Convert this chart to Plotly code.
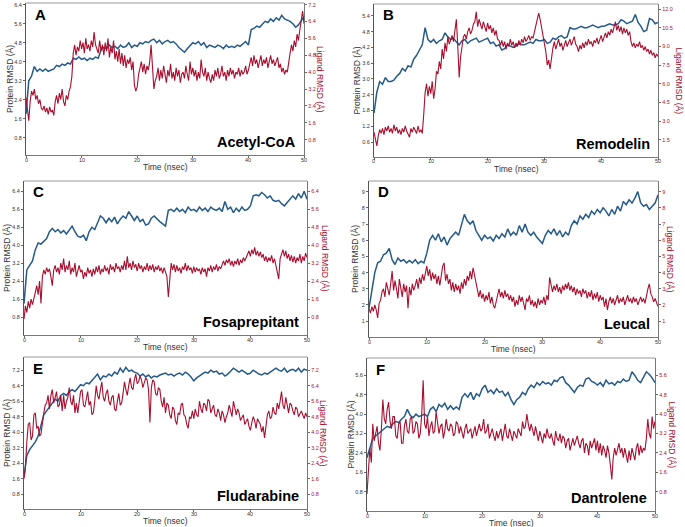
import numpy as np
import plotly.graph_objects as go

# ---- data ----
# protein RMSD, sampled every 0.5 ns
a_protein = [1.8, 3.2, 3.4, 3.8, 3.6, 3.7, 3.6, 3.7, 3.6, 3.65, 3.7, 3.85, 3.8, 3.9, 3.85, 3.95, 3.9,
             4.15, 4.1, 4.2, 4.1, 4.15, 4.05, 4.15, 4.1, 4.2, 4.15, 4.5, 4.6, 4.55, 4.7, 4.6, 4.65, 4.55,
             4.7, 4.6, 4.65, 4.8, 4.6, 4.7, 4.65, 4.8, 4.75, 4.85, 4.8, 4.9, 4.95, 4.8, 4.9, 4.75, 4.85,
             4.9, 4.8, 4.85, 4.75, 4.6, 4.5, 4.4, 4.55, 4.7, 4.8, 4.75, 4.85, 4.7, 4.8, 4.6, 4.7, 4.65,
             4.6, 4.7, 4.65, 4.55, 4.7, 4.6, 4.65, 4.6, 4.7, 4.65, 4.75, 4.85, 4.7, 5.35, 5.4, 5.5, 5.45,
             5.6, 5.7, 5.65, 5.8, 5.7, 5.85, 5.75, 5.95, 5.8, 5.75, 5.7, 5.6, 5.45, 5.55, 5.7, 5.9]
b_protein = [1.7, 2.5, 2.9, 2.8, 3.05, 2.9, 2.9, 2.95, 3.1, 3.2, 3.4, 3.3, 3.5, 3.45, 3.75, 3.9, 4.1,
             4.3, 4.95, 4.5, 4.4, 4.5, 4.35, 4.45, 4.5, 4.75, 4.6, 4.5, 4.55, 4.4, 4.3, 4.45, 4.5,
             4.35, 4.45, 4.5, 4.55, 4.4, 4.45, 4.5, 4.55, 4.35, 4.4, 4.25, 4.3, 4.1, 4.15, 4.3, 4.25,
             4.2, 4.25, 4.35, 4.3, 4.3, 4.35, 4.4, 4.35, 4.5, 4.45, 4.45, 4.5, 4.35, 4.4, 4.55, 4.5,
             4.6, 4.65, 4.55, 4.6, 4.95, 4.9, 4.9, 4.95, 5.0, 4.95, 4.95, 5.0, 5.05, 5.0, 4.95, 5.0,
             5.0, 5.05, 5.1, 5.05, 5.05, 5.1, 5.25, 5.2, 5.1, 5.15, 5.2, 5.45, 5.15, 5.0, 4.8, 4.85, 5.3,
             5.25, 5.1, 5.15]
c_protein = [1.4, 2.9, 3.1, 3.3, 3.8, 4.1, 4.05, 4.2, 4.3, 4.6, 4.75, 4.6, 4.7, 4.55, 4.65, 4.5, 4.7,
             4.85, 4.6, 4.4, 4.35, 4.45, 4.2, 4.6, 4.8, 4.7, 5.0, 5.3, 5.2, 5.0, 5.2, 5.05, 5.25, 4.95,
             5.15, 5.3, 5.2, 5.5, 5.3, 5.1, 5.3, 5.05, 5.15, 4.9, 4.95, 5.2, 5.3, 5.15, 5.05, 4.95,
             4.85, 5.55, 5.6, 5.5, 5.65, 5.5, 5.6, 5.45, 5.7, 5.55, 5.6, 5.5, 5.7, 5.55, 5.65, 5.5,
             5.7, 5.6, 5.55, 5.65, 5.5, 5.95, 5.6, 5.7, 5.45, 5.65, 5.5, 5.7, 5.55, 5.6, 5.75, 6.2,
             6.25, 6.2, 6.35, 6.25, 6.1, 6.2, 6.0, 5.95, 6.0, 5.85, 5.75, 5.9, 6.05, 6.2, 6.05, 6.3,
             6.1, 6.4, 6.05]
d_protein = [1.8, 2.8, 4.0, 4.6, 4.7, 5.1, 5.2, 5.5, 4.8, 4.5, 4.9, 4.7, 4.8, 4.6, 4.75, 4.6, 4.8,
             4.55, 4.7, 4.6, 5.2, 6.0, 6.3, 6.0, 6.4, 5.9, 6.2, 5.7, 6.1, 6.3, 6.5, 6.3, 7.0, 7.6, 7.2,
             7.0, 7.2, 6.6, 6.3, 6.0, 6.3, 6.1, 6.2, 5.95, 6.3, 6.1, 6.4, 6.2, 6.7, 6.3, 6.5, 6.3, 6.9,
             6.5, 7.0, 6.5, 6.3, 6.5, 6.2, 6.0, 5.8, 6.3, 6.6, 6.4, 6.7, 6.3, 6.6, 6.2, 6.5, 6.3, 6.9,
             7.2, 7.0, 7.5, 7.3, 7.6, 7.4, 7.8, 7.6, 7.9, 7.7, 8.0, 7.8, 7.5, 7.9, 7.6, 8.1, 7.8, 8.4,
             8.2, 8.5, 8.3, 8.6, 9.0, 8.3, 8.1, 8.2, 7.9, 8.1, 8.3, 8.8]
e_protein = [1.7, 2.8, 3.1, 3.3, 3.5, 3.8, 4.3, 4.9, 5.1, 5.3, 5.5, 5.7, 5.6, 5.9, 6.0, 5.9, 6.1, 6.2,
             6.1, 6.3, 6.45, 6.4, 6.55, 6.5, 6.65, 6.8, 7.0, 6.7, 6.9, 6.85, 7.0, 6.9, 7.1, 7.0, 7.3,
             7.1, 7.35, 7.15, 7.2, 7.1, 7.05, 6.9, 7.0, 6.85, 6.95, 6.8, 6.9, 6.85, 6.95, 7.0, 7.05,
             6.95, 7.0, 6.9, 7.0, 7.05, 6.95, 7.1, 7.0, 6.85, 6.65, 6.8, 6.9, 7.0, 7.1, 7.05, 7.2, 7.1,
             7.15, 7.0, 7.05, 6.9, 7.0, 7.15, 7.3, 7.2, 7.1, 7.2, 7.1, 7.0, 7.05, 7.2, 7.1, 7.0, 6.95,
             7.05, 7.0, 7.1, 7.2, 7.3, 7.2, 7.15, 7.3, 7.1, 7.2, 7.25, 7.15, 7.3, 7.1, 7.25, 7.2]
f_protein = [2.2, 2.6, 3.0, 3.1, 3.2, 3.3, 3.4, 3.5, 3.45, 3.6, 3.7, 3.65, 3.8, 3.9, 4.2, 3.95, 3.85,
             4.0, 3.9, 3.95, 4.0, 3.9, 4.2, 4.3, 4.1, 4.4, 4.3, 4.45, 4.2, 4.35, 4.2, 4.3, 4.2, 4.7,
             4.85, 4.7, 4.9, 4.6, 4.85, 4.75, 5.05, 5.2, 4.9, 5.0, 4.85, 5.05, 4.9, 4.95, 4.75, 4.9,
             4.6, 4.4, 4.6, 4.7, 4.9, 4.8, 5.05, 5.2, 5.1, 5.3, 5.2, 5.35, 5.25, 5.3, 5.2, 5.4, 5.35,
             5.5, 5.55, 5.3, 5.2, 5.05, 4.9, 5.1, 5.2, 5.15, 5.45, 5.5, 5.35, 5.3, 5.2, 5.3, 5.15, 5.4,
             5.25, 5.3, 5.2, 5.35, 5.3, 5.45, 5.35, 5.4, 5.75, 5.6, 5.4, 5.3, 5.5, 5.75, 5.65, 5.5, 5.3]

# ligand RMSD, sampled every 0.25 ns
a_ligand = [2.8, 2.2, 1.7, 2.6, 3.1, 2.9, 3.2, 2.7, 2.9,
            2.5, 2.7, 2.3, 2.2, 2.4, 2.1, 2.3, 2.0, 2.35, 2.1, 2.2, 1.95,
            2.6, 2.9, 2.5, 3.0, 2.7, 3.2, 2.6, 2.4, 2.9, 2.7, 3.1, 3.3, 3.8,
            4.9, 5.3, 4.8, 5.2, 5.0, 5.5, 5.1, 5.4, 4.9, 5.6, 5.1, 5.3, 5.0, 5.5, 5.2, 5.9, 5.3, 5.1, 4.9,
            5.5, 5.0, 5.3, 4.8, 5.4, 5.0, 5.6, 4.7, 5.2, 4.9, 5.5, 4.6, 5.0, 4.5, 5.1, 4.4, 4.9, 4.3,
            4.8, 4.2, 4.6, 4.4, 4.7, 4.1, 4.5,
            3.4, 3.1, 3.3, 3.9,
            4.2, 4.5, 4.0, 4.4, 3.9, 4.3, 4.1, 4.5,
            5.3, 4.0, 3.2, 3.6,
            3.8, 4.2, 3.6, 4.1, 3.7, 4.3, 3.9, 3.5, 4.1, 3.8, 4.4, 3.7, 4.0, 3.6, 4.2, 3.8, 4.1, 3.5,
            3.9, 4.0, 3.7, 4.3, 3.9, 3.6, 4.5, 3.9, 4.2,
            3.8, 4.1, 3.6, 4.0, 3.7, 4.6, 4.0, 3.8, 4.2, 3.6, 4.0, 3.7, 3.5, 3.9, 3.6, 4.1, 3.8, 4.2,
            3.7, 3.9, 4.3, 3.8, 4.0, 3.6, 4.1, 3.8, 4.2, 3.9, 4.1, 3.7, 4.0, 3.9, 4.2, 3.8, 4.1, 3.9,
            4.0, 4.3, 3.9, 4.1,
            4.5, 4.7, 4.3, 4.8, 4.4, 4.6, 4.2, 4.5, 4.8, 4.3, 4.6, 4.4, 4.7, 4.2, 4.5, 4.8, 4.4, 4.6,
            4.3, 4.5, 4.7, 4.2, 4.4, 4.0, 4.2, 3.9, 4.1, 4.0,
            4.6, 4.9, 5.3, 5.0, 5.5, 5.2, 5.8, 5.5, 6.0, 6.5, 6.9, 6.3]
b_ligand = [2.1, 1.5, 1.0, 1.8, 2.3, 2.0, 2.4, 1.9, 2.5, 2.2, 2.6, 2.1, 2.4, 2.0, 2.7, 2.2, 2.5, 2.0,
            2.3, 1.9, 2.4, 2.1, 2.6, 2.2, 2.0, 1.7, 2.4, 2.1, 2.5, 2.2, 2.0, 2.6, 2.1, 2.3, 2.0,
            3.5, 5.3, 6.0, 5.0, 5.8, 5.2, 6.2, 4.8, 5.6, 7.0,
            6.8, 7.8, 7.2, 8.8, 8.0, 9.3, 8.6, 9.8, 9.2, 9.6, 9.9, 9.4, 10.3, 11.2, 9.0, 6.5,
            8.2, 9.0, 9.8, 10.0, 9.6, 10.2, 10.5, 10.0, 10.3, 10.8, 11.0, 11.8,
            10.6, 11.2, 10.8, 10.4, 11.0, 10.6, 10.2, 10.9, 10.4, 10.7, 10.1, 10.5, 9.9, 10.3, 9.6, 9.5,
            9.1, 9.5, 9.0, 9.4, 8.8, 9.3, 9.0, 9.6, 9.1, 9.4, 8.9, 9.3, 9.0, 9.5, 9.1, 9.6, 9.3, 9.8,
            9.4, 9.6, 9.9, 9.5, 9.8, 9.7,
            10.2, 10.6, 11.0, 11.7, 11.2, 10.6, 10.0, 9.5, 8.6, 7.5, 7.9, 7.2,
            8.3, 8.9, 9.4, 8.8, 9.2, 9.6, 9.0, 9.3, 8.7, 9.1, 9.5, 9.0, 9.3, 9.6, 9.1, 9.4, 9.8, 9.2,
            9.0, 8.6, 9.1, 8.8, 9.3, 8.9, 9.4, 9.1, 9.6, 9.2, 9.4, 9.0, 9.5, 9.3, 9.7, 9.2, 9.6, 9.9,
            9.4, 9.8, 10.1, 9.7, 10.2, 9.9, 10.4, 10.1,
            10.6, 11.0, 10.3, 10.7, 10.2, 10.6, 10.0, 10.5, 10.1, 10.4, 9.9, 10.2,
            9.4, 9.0, 9.3, 8.9, 9.2, 9.0, 9.4, 8.9, 9.1, 8.7, 9.0, 8.6, 8.8, 8.4, 8.7, 8.3, 8.5, 8.1,
            8.4, 8.2]
c_ligand = [0.7, 1.3, 1.0, 1.5, 1.2, 1.6, 1.35, 1.7, 1.9, 2.2, 1.8, 2.4, 1.4,
            2.6, 2.9, 2.7, 3.0, 2.8, 2.95, 2.6, 2.2, 2.9, 3.1, 2.8, 3.0, 2.7, 3.2, 2.9, 3.4, 2.8, 3.1,
            2.9, 3.3, 2.7, 3.0, 2.8, 3.2, 2.6, 2.9, 3.1, 2.8,
            2.9, 2.5, 2.8, 2.6, 3.0, 2.75, 2.9, 2.6, 2.95, 2.7, 3.05, 2.8, 3.1, 2.7, 2.95, 2.8, 3.1,
            2.85, 3.0, 2.7, 3.15, 2.9, 3.05, 2.8, 3.2, 2.95, 3.05, 2.8, 3.1, 2.9, 3.3, 2.9,
            3.5, 3.0, 3.2, 2.9, 3.3, 3.0, 3.15, 2.85, 3.2, 2.95, 3.1, 2.8, 3.05, 2.9, 3.2, 2.85, 3.1,
            2.9, 3.15, 2.8, 3.05, 2.9, 3.1, 2.85, 3.0, 2.75, 3.0, 2.8, 2.6,
            1.7, 2.5, 3.2,
            2.9, 3.15, 2.8, 3.1, 2.85, 3.0, 2.75, 3.05, 2.9, 3.2, 2.85, 3.1, 2.9, 3.0, 2.75, 3.05, 2.8,
            3.0, 2.85, 2.95, 2.7, 3.0, 2.8, 2.95, 2.6, 3.0, 2.85, 3.1, 2.8, 3.05, 2.9, 3.15, 2.85,
            3.05, 2.95, 3.1,
            3.3, 3.1, 3.35, 3.2, 3.4, 3.1, 3.3, 3.05, 3.3, 3.15, 3.4, 3.1, 3.35, 3.2, 3.45, 3.3, 3.5,
            3.6, 3.75, 3.5, 3.8, 3.6, 3.9, 3.55, 3.75, 3.5, 3.7, 3.45, 3.6, 3.3, 3.5, 3.25, 3.45, 3.3,
            3.55, 3.2, 3.4, 3.1, 2.8, 2.5,
            3.4, 3.6, 3.8, 3.5, 3.75, 3.4, 3.6, 3.3, 3.55, 3.25, 3.5, 3.2, 3.45, 3.3, 3.6, 3.2, 3.5,
            3.3, 3.65, 3.45]
d_ligand = [1.8, 1.5, 1.9, 1.6, 2.0, 1.7, 1.2, 2.1, 2.3,
            2.8, 3.0, 2.5, 3.4, 2.9, 2.6, 3.3, 4.1, 2.9, 3.5, 3.0, 2.4, 3.6, 3.0, 2.5, 3.3, 2.8, 3.2,
            1.8, 3.1, 2.6, 3.3, 2.9, 3.2, 3.6, 3.0, 3.7, 3.3, 3.9, 3.5, 4.1, 4.4,
            3.8, 4.2, 3.5, 4.0, 3.6, 3.9, 3.3, 3.8, 3.2, 3.7, 4.4, 4.6, 3.5, 3.9, 3.3, 3.6, 2.9, 3.4,
            2.8, 3.3, 2.9, 3.2, 2.7, 3.4, 3.0, 3.6, 3.2, 3.8, 3.5, 4.1, 3.6, 4.3, 3.8, 3.3,
            2.8, 2.5, 2.9, 2.4, 2.7, 2.2, 2.6, 2.3, 2.8, 2.1, 2.5, 2.0, 1.8, 2.3, 2.6, 3.0, 2.5, 2.8,
            2.4, 2.9, 2.5, 2.7, 2.3, 2.6, 2.2, 2.5, 1.9, 2.3, 2.0, 2.6, 2.2, 2.5, 2.1, 1.7, 2.4, 2.2,
            2.6, 2.0, 2.3, 1.9, 2.2, 1.8, 2.4, 2.0, 2.3, 2.1, 2.5, 2.0, 2.6, 2.3,
            3.7, 3.1, 2.8, 3.2, 2.9, 3.3, 2.8, 3.1, 2.7, 3.2, 2.9, 3.3, 3.0, 3.4, 2.9, 3.2, 2.8, 3.1,
            2.6, 3.0, 2.7, 2.9, 2.5, 3.0, 2.7, 2.9, 2.4, 2.8, 2.5, 2.9, 2.3, 2.7, 2.4, 2.8, 2.2, 2.6,
            2.3, 2.5, 1.9, 2.4, 1.7, 2.2, 2.5, 2.1, 2.4, 2.0, 2.3, 2.6, 2.1, 2.4, 2.2, 2.5, 2.0, 2.3,
            2.6, 2.2, 2.4, 2.1, 2.5, 2.2, 2.4, 2.0, 2.3, 2.5, 2.2, 2.4, 2.1, 2.6, 3.0, 3.3, 2.7, 2.5,
            2.2, 2.4, 2.1, 1.9]
e_ligand = [1.6, 2.2, 3.5, 4.4, 4.5, 3.6, 3.8, 4.9, 5.0, 4.2, 4.3, 3.8, 3.9,
            4.6, 5.0, 5.4, 5.5, 5.9, 5.2, 5.9, 6.2, 5.5, 5.8, 6.1, 5.3, 5.4, 5.9, 5.1, 5.9, 5.2, 5.6,
            5.8, 6.3, 5.6, 5.4, 5.9, 5.0, 5.5, 5.0, 5.7, 6.1, 6.2, 5.4, 5.3, 5.8, 6.1, 5.4, 5.6, 4.9,
            5.0, 5.6, 6.4, 5.9, 5.7, 6.2, 6.6, 5.8, 5.6, 6.0, 6.2, 5.6, 5.4, 5.8, 5.9, 5.2, 5.1, 5.6,
            6.0, 5.4, 5.5, 6.0, 6.6, 6.2, 5.9, 6.4, 6.8, 6.3, 6.2, 6.7, 7.0, 6.5, 6.6, 6.9, 6.7, 6.3,
            6.5, 6.8, 6.7, 6.2, 4.5,
            6.3, 6.7, 6.6, 6.0, 5.9, 6.3, 6.2, 5.6, 5.3, 5.8, 5.0, 5.5, 5.4, 4.9, 4.7, 5.3, 5.2, 4.6,
            4.4, 5.0, 4.9, 5.4, 5.5, 4.9, 4.8, 4.4, 4.2, 4.8, 4.7, 5.1, 4.7,
            5.2, 4.9, 4.8, 5.6, 5.2, 5.0, 5.5, 5.4, 5.1, 5.7, 5.6, 5.0, 5.2, 5.4, 4.9, 4.8, 5.2, 5.0,
            4.6, 5.1, 4.9, 4.5, 4.8, 5.0, 5.4, 5.0, 4.8, 5.6, 5.3, 4.9, 5.2, 5.0, 4.6, 4.8, 4.9, 4.4,
            4.6, 4.7, 4.3, 4.1, 4.5, 4.8, 4.6, 4.2, 4.7, 4.5, 4.4, 4.0, 4.3, 3.7,
            4.5, 4.9, 5.1, 4.7, 4.8, 5.3, 5.0, 4.9, 5.5, 5.2, 5.6, 6.1, 5.4, 5.2, 5.8, 5.4, 5.0, 5.5,
            5.4, 5.1, 4.9, 5.3, 5.2, 4.8, 5.0, 5.1, 4.9, 4.7, 5.0, 4.8]
f_ligand = [0.7, 1.5, 2.6, 2.0, 3.6,
            2.9, 3.3, 3.5, 2.8, 2.5, 3.4, 4.6, 3.8, 3.6, 4.2, 4.5, 3.7, 3.4, 3.9, 3.9, 3.1, 3.0, 3.6,
            3.7, 2.8, 2.8, 3.5, 3.8, 3.3, 3.2, 3.8, 3.9, 3.2, 3.3, 3.7, 3.6, 3.0, 3.2, 4.0, 5.4, 3.6,
            3.4, 3.9,
            3.1, 3.5, 3.7, 3.2, 3.3, 4.1, 3.6, 3.2, 3.5, 3.6, 3.0, 3.3, 3.8, 3.4, 3.3, 3.6, 3.5, 3.1,
            3.2, 3.7, 3.6, 3.2, 3.5, 3.3, 3.0, 3.4, 3.6, 3.2, 3.3, 3.4, 3.0, 3.2, 3.5, 3.1, 3.3, 3.6,
            3.3, 3.4, 3.8, 3.2, 3.3, 3.6, 3.0, 3.2, 3.4, 3.1, 2.9, 3.3, 3.0, 3.2, 3.4, 2.9, 3.3, 3.6,
            3.1, 3.0, 3.4, 3.2,
            2.9, 3.3, 3.1, 3.0, 3.4, 3.2, 3.1, 3.7, 3.4, 3.5, 4.0, 3.6, 3.3, 3.6, 3.4, 3.1, 3.5, 3.2,
            2.9, 3.3, 3.1, 2.8, 3.2, 3.0, 3.4, 3.1, 3.0, 3.2, 2.9, 2.7, 3.3, 3.0, 2.9, 3.2, 2.8, 3.1,
            3.0, 2.6, 2.9, 3.0, 2.5, 2.8, 3.0, 2.7, 2.9, 3.1, 2.8, 2.6, 2.9, 3.0, 2.4, 2.8, 2.7, 2.3,
            2.9, 2.6, 2.8, 3.0, 2.5, 2.9,
            2.4, 2.8, 2.3, 2.7, 2.5, 2.2, 2.7, 2.4, 1.9, 1.3, 2.2, 2.6, 2.3, 2.5, 2.8, 2.4, 2.6, 2.2,
            2.6, 2.3, 2.0, 2.5, 2.1, 2.6, 2.4, 2.1, 2.6, 2.8, 2.3, 2.7, 2.4, 2.6, 2.5, 3.0, 3.8, 3.2,
            3.0, 3.9, 3.4, 3.7]

letters = ['A', 'B', 'C', 'D', 'E', 'F']
names = ['Acetyl-CoA', 'Remodelin', 'Fosaprepitant', 'Leucal', 'Fludarabine', 'Dantrolene']
proteins = [a_protein, b_protein, c_protein, d_protein, e_protein, f_protein]
ligands = [a_ligand, b_ligand, c_ligand, d_ligand, e_ligand, f_ligand]
left_ticks = [[0.8, 1.6, 2.4, 3.2, 4.0, 4.8, 5.6, 6.4],
              [0.6, 1.2, 1.8, 2.4, 3.0, 3.6, 4.2, 4.8, 5.4],
              [0.8, 1.6, 2.4, 3.2, 4.0, 4.8, 5.6, 6.4],
              [1, 2, 3, 4, 5, 6, 7, 8, 9],
              [0.8, 1.6, 2.4, 3.2, 4.0, 4.8, 5.6, 6.4, 7.2],
              [0.8, 1.6, 2.4, 3.2, 4.0, 4.8, 5.6]]
right_ticks = [[0.8, 1.6, 2.4, 3.2, 4.0, 4.8, 5.6, 6.4, 7.2],
               [1.5, 3.0, 4.5, 6.0, 7.5, 9.0, 10.5, 12.0],
               [0.8, 1.6, 2.4, 3.2, 4.0, 4.8, 5.6, 6.4],
               [1, 2, 3, 4, 5, 6, 7, 8, 9],
               [0.8, 1.6, 2.4, 3.2, 4.0, 4.8, 5.6, 6.4, 7.2],
               [0.8, 1.6, 2.4, 3.2, 4.0, 4.8, 5.6]]
x_ticks = [0, 10, 20, 30, 40, 50]

# ---- layout geometry (pixels) ----
W, H = 685, 527
boxes = [(26, 304, 3, 155), (374, 658, 4, 157),
         (24, 307, 181, 335), (369, 658, 181, 337),
         (24, 307, 357, 509), (367, 655, 358, 511)]
left_ranges = [(0.08, 6.47), (0.03, 5.85), (0.0, 6.86), (0.02, 9.66), (0.04, 7.88), (0.0, 6.32)]
right_ranges = [(0.07, 7.28), (0.1, 12.43), (0.0, 6.86), (0.02, 9.66), (0.04, 7.88), (0.0, 6.32)]
ltitle_x = [10, 357, 7, 355, 7, 350]
rtitle_x = [320, 678, 325, 670, 323, 672]
xtitle_off = [11.5, 12, 12, 12, 12, 12]

BLUE = '#255a89'
RED = '#a80f2f'
FONT = 'Liberation Sans, Arial, sans-serif'

fig = go.Figure()
layout = dict(width=W, height=H, margin=dict(l=0, r=0, t=0, b=0, pad=0),
              paper_bgcolor='white', plot_bgcolor='white', showlegend=False,
              font=dict(family=FONT))
annotations = []
shapes = []

for i in range(6):
    x0, x1, yt, yb = boxes[i]
    xn = 'x' if i == 0 else f'x{i + 1}'
    yl = 2 * i + 1
    yr = 2 * i + 2
    yln = 'y' if yl == 1 else f'y{yl}'
    yrn = f'y{yr}'
    dom_x = [x0 / W, x1 / W]
    dom_y = [1 - yb / H, 1 - yt / H]

    t = np.linspace(0, 50, len(proteins[i]))
    fig.add_trace(go.Scatter(x=t, y=proteins[i], mode='lines', xaxis=xn, yaxis=yln,
                             line=dict(color=BLUE, width=1.5)))
    t2 = np.linspace(0, 50, len(ligands[i]))
    fig.add_trace(go.Scatter(x=t2, y=ligands[i], mode='lines', xaxis=xn, yaxis=yrn,
                             line=dict(color=RED, width=1.1)))

    tick = dict(ticks='outside', ticklen=2, tickwidth=0.8, tickcolor='#666',
                showgrid=False, zeroline=False)
    layout['xaxis' if i == 0 else f'xaxis{i + 1}'] = dict(
        domain=dom_x, anchor=yln, range=[0, 50], tickvals=x_ticks, showticklabels=False,
        showline=True, linecolor='#777', linewidth=1.2, **tick)
    fmt = 'd' if i == 3 else '.1f'
    layout['yaxis' if yl == 1 else f'yaxis{yl}'] = dict(
        domain=dom_y, anchor=xn, range=list(left_ranges[i]), tickvals=left_ticks[i],
        showline=True, linecolor='#555', linewidth=1.2,
        tickformat=fmt, tickfont=dict(size=5.5, color='#333'), side='left', **tick)
    layout[f'yaxis{yr}'] = dict(
        domain=dom_y, anchor=xn, overlaying=yln, side='right', range=list(right_ranges[i]),
        showline=True, linecolor='#777', linewidth=1.2,
        tickvals=right_ticks[i], tickformat=fmt, tickfont=dict(size=5.5, color=RED), **tick)

    # light frame on top
    shapes.append(dict(type='line', xref='paper', yref='paper',
                       x0=x0 / W, x1=x1 / W, y0=1 - yt / H, y1=1 - yt / H,
                       line=dict(color='#9a9a9a', width=1.2)))

    # x tick labels sit closer to the axis than plotly's default standoff
    for v in x_ticks:
        annotations.append(dict(text=str(v), x=v, xref=xn, y=1 - (yb + 4.5) / H, yref='paper',
                                xanchor='center', yanchor='middle', showarrow=False,
                                font=dict(size=5.5, color='#333', family=FONT)))

    annotations.append(dict(text=f'<b>{letters[i]}</b>', x=(x0 + 7) / W, y=1 - (yt + 11) / H,
                            xref='paper', yref='paper', xanchor='left', yanchor='middle',
                            showarrow=False, font=dict(size=15, color='black', family=FONT)))
    annotations.append(dict(text=f'<b>{names[i]}</b>', x=(x1 - 6) / W, y=1 - (yb - 13) / H,
                            xref='paper', yref='paper', xanchor='right', yanchor='middle',
                            showarrow=False, font=dict(size=14.5, color='black', family=FONT)))
    annotations.append(dict(text='Time (nsec)', x=(x0 + x1) / 2 / W,
                            y=1 - (yb + xtitle_off[i]) / H,
                            xref='paper', yref='paper', xanchor='center', yanchor='middle',
                            showarrow=False, font=dict(size=8.5, color='#333', family=FONT)))
    annotations.append(dict(text='Protein RMSD (Å)', x=ltitle_x[i] / W, y=1 - (yt + yb) / 2 / H,
                            xref='paper', yref='paper', xanchor='center', yanchor='middle',
                            textangle=-90, showarrow=False,
                            font=dict(size=8.5, color='#333', family=FONT)))
    annotations.append(dict(text='Ligand RMSD (Å)', x=rtitle_x[i] / W, y=1 - (yt + yb) / 2 / H,
                            xref='paper', yref='paper', xanchor='center', yanchor='middle',
                            textangle=90, showarrow=False,
                            font=dict(size=8.5, color=RED, family=FONT)))

layout['annotations'] = annotations
layout['shapes'] = shapes
fig.update_layout(**layout)

# the page body has an 8px default margin; remove it so the figure fills the window
fig.write_html("out.html", config={'displayModeBar': False},
               post_script="document.body.style.margin='0';document.body.style.overflow='hidden';")
